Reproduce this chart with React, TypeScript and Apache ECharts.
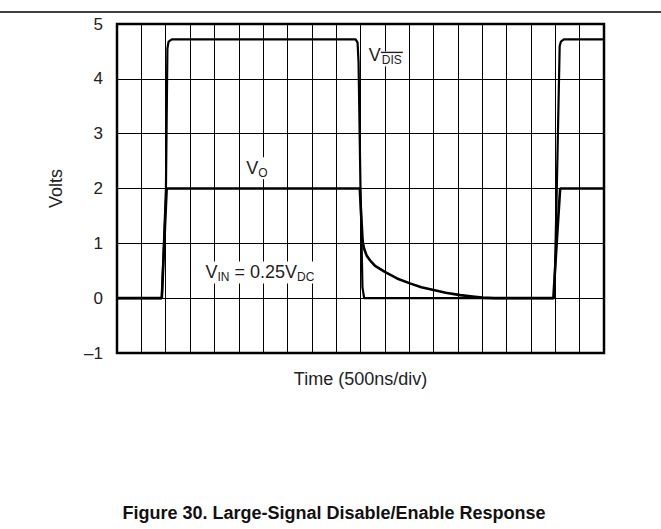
import React, { useEffect, useRef } from "react";
import * as echarts from "echarts";

// x in divisions (500 ns/div), y in volts
const vDis: [number, number][] = [
  [0, 0], [1.84, 0], [2.01, 2], [2.07, 4.55], [2.12, 4.68], [2.25, 4.72],
  [9.8, 4.72], [9.88, 4.66], [9.92, 4.3], [10.0, 2], [10.08, 0.2], [10.15, 0],
  [17.96, 0], [18.06, 1.97], [18.18, 4.6], [18.23, 4.68], [18.35, 4.72], [20, 4.72],
];
const vOut: [number, number][] = [
  [0, 0], [1.84, 0], [2.04, 2], [9.97, 2], [10.08, 1.1], [10.1, 1.0], [10.15, 0.9],
  [10.25, 0.78], [10.39, 0.69], [10.6, 0.59], [11.0, 0.48], [11.5, 0.36], [12.03, 0.27],
  [12.5, 0.2], [13.0, 0.15], [13.5, 0.1], [14.1, 0.055], [14.6, 0.03], [15.0, 0.01],
  [15.5, 0], [17.92, 0], [18.09, 1.24], [18.2, 2], [20, 2],
];
const yTicks = [-1, 0, 1, 2, 3, 4, 5];
const xDivisions = 20;
const labelVo: [number, number] = [5.75, 2.37];
const labelVin: [number, number] = [5.87, 0.47];
const labelVdis: [number, number] = [11.0, 4.4];

const FONT = "'Liberation Sans', Arial, Helvetica, sans-serif";

const rich = {
  m: { fontSize: 18, fontFamily: FONT, color: "#222", lineHeight: 22 },
  s: { fontSize: 12, fontFamily: FONT, color: "#222", lineHeight: 13, verticalAlign: "bottom" as const },
  ol: { width: 22, height: 1.4, lineHeight: 2, backgroundColor: "#222", align: "center" as const },
  t: { fontSize: 12, fontFamily: FONT, color: "#222", lineHeight: 13, align: "center" as const },
};

export default function App() {
  const ref = useRef<HTMLDivElement>(null);
  useEffect(() => {
    document.body.style.margin = "0";
    if (!ref.current) return;
    const chart = echarts.init(ref.current, null, { renderer: "svg" });
    const mkLabel = (coord: [number, number], text: string, offset: [number, number] = [0, 0], bg = true) => ({
      coord,
      symbol: "rect",
      symbolSize: 0,
      label: {
        show: true,
        position: "inside",
        offset,
        formatter: text,
        backgroundColor: bg ? "#fff" : "transparent",
        padding: [0, 2, 0, 2],
        rich,
      },
    });
    chart.setOption({
      animation: false,
      backgroundColor: "#fff",
      grid: {
        left: 117, right: 57, top: 24, bottom: 176,
        show: true, borderColor: "#000", borderWidth: 2.5, backgroundColor: "transparent",
        z: 5,
      },
      xAxis: {
        type: "value", min: 0, max: xDivisions, interval: 1,
        name: "Time (500ns/div)", nameLocation: "middle", nameGap: 17,
        nameTextStyle: { fontSize: 18, fontFamily: FONT, color: "#222", verticalAlign: "top" },
        axisLine: { show: false }, axisTick: { show: false }, axisLabel: { show: false },
        splitLine: { show: true, lineStyle: { color: "#000", width: 1 } },
      },
      yAxis: {
        type: "value", min: yTicks[0], max: yTicks[yTicks.length - 1], interval: 1,
        name: "Volts", nameLocation: "middle", nameGap: 52,
        nameTextStyle: { fontSize: 18, fontFamily: FONT, color: "#222" },
        axisLine: { show: false }, axisTick: { show: false },
        axisLabel: {
          margin: 14, fontSize: 17, fontFamily: FONT, color: "#222",
          formatter: (v: number) => (v < 0 ? "\u2013" + Math.abs(v) : String(v)),
        },
        splitLine: { show: true, lineStyle: { color: "#000", width: 1 } },
      },
      series: [
        {
          type: "line", name: "VDIS", data: vDis, showSymbol: false,
          lineStyle: { color: "#000", width: 2.2 }, itemStyle: { color: "#000" }, z: 3,
          markPoint: {
            data: [
              mkLabel(labelVdis, "{m|V}", [-10, -2]),
              mkLabel(labelVdis, "{ol|}\n{t|DIS}", [7, 2]),
            ],
          },
        },
        {
          type: "line", name: "VO", data: vOut, showSymbol: false,
          lineStyle: { color: "#000", width: 2.6 }, itemStyle: { color: "#000" }, z: 3,
          markPoint: {
            data: [
              mkLabel(labelVo, "{m|V}{s|O}"),
              mkLabel(labelVin, "{m|V}{s|IN}{m| = 0.25V}{s|DC}"),
            ],
          },
        },
      ],
      graphic: [
        { type: "line", shape: { x1: 0, y1: 12, x2: 661, y2: 12 }, style: { stroke: "#000", lineWidth: 1.5 } },
        {
          type: "text", x: 334, y: 513,
          style: {
            text: "Figure 30. Large-Signal Disable/Enable Response",
            fontSize: 18, fontWeight: "bold", fontFamily: FONT, fill: "#111",
            align: "center", verticalAlign: "middle",
          },
        },
      ],
    });
    return () => chart.dispose();
  }, []);
  return <div ref={ref} style={{ width: 661, height: 529 }} />;
}
